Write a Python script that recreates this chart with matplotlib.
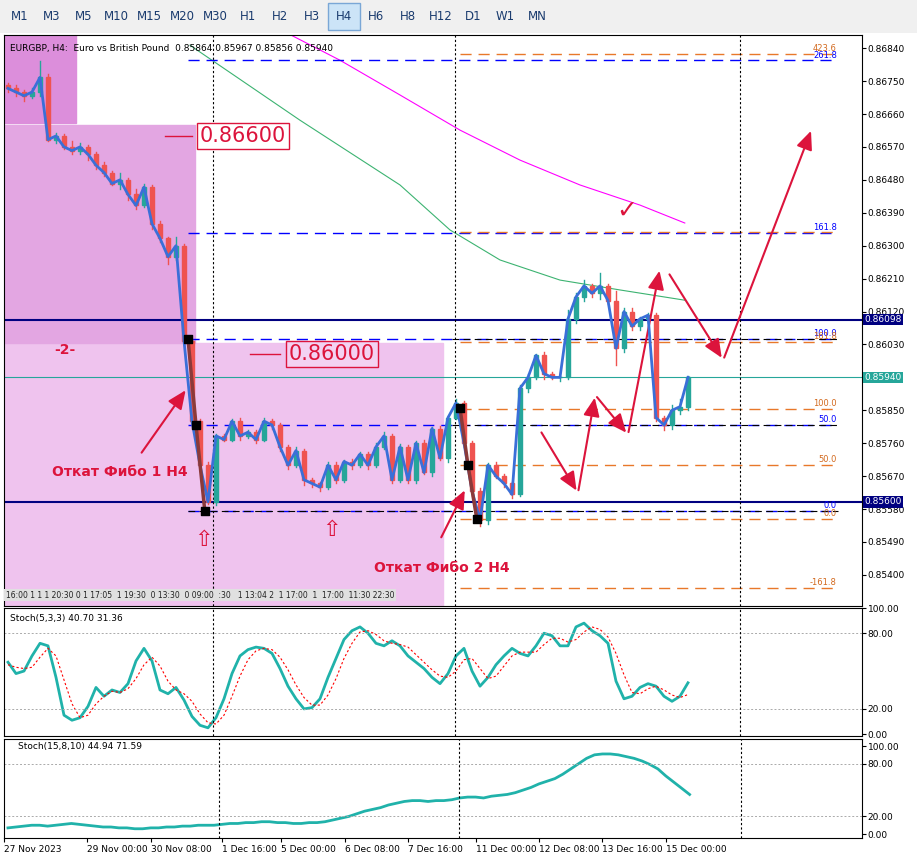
import matplotlib
matplotlib.use("Agg")
import matplotlib.pyplot as plt
from matplotlib.patches import Rectangle
import numpy as np

# ---- data ----
closes = [0.8673, 0.8672, 0.8671, 0.8672, 0.8676, 0.8659, 0.8660, 0.8657, 0.8656, 0.8657,
          0.8655, 0.8652, 0.8650, 0.8647, 0.8648, 0.8644, 0.8641, 0.8646, 0.8636, 0.8632,
          0.8627, 0.8630, 0.8604, 0.8582, 0.8570, 0.8560, 0.8578, 0.8577, 0.8582, 0.8578,
          0.8579, 0.8577, 0.8582, 0.8581, 0.8575, 0.8570, 0.8574, 0.8566, 0.8565, 0.8564,
          0.8570, 0.8566, 0.8571, 0.8570, 0.8573, 0.8570, 0.8575, 0.8578, 0.8566, 0.8575,
          0.8566, 0.8576, 0.8568, 0.8580, 0.8572, 0.8583, 0.8587, 0.8576, 0.8563, 0.8555,
          0.8570, 0.8567, 0.8565, 0.8562, 0.8591, 0.8594, 0.8600, 0.8595, 0.8594, 0.8594,
          0.8610, 0.8616, 0.8619, 0.8617, 0.8619, 0.8615, 0.8602, 0.8612, 0.8608, 0.8610,
          0.8611, 0.8583, 0.8581, 0.8585, 0.8586, 0.8594]
first_open = 0.8674
up_wick = [5, 8, 5, 10, 45, 10, 8, 5, 15, 10, 5, 5, 10, 5, 20, 5, 15, 10, 5, 8,
           5, 25, 5, 5, 5, 10, 5, 5, 5, 10, 5, 5, 8, 5, 5, 5, 10, 5, 5, 5,
           10, 10, 5, 8, 5, 5, 10, 10, 5, 8, 5, 5, 10, 5, 8, 5, 10, 5, 5, 8,
           5, 10, 5, 5, 8, 10, 5, 10, 5, 5, 25, 10, 15, 5, 35, 5, 25, 10, 10, 5,
           5, 5, 5, 15, 20, 5]
dn_wick = [10, 10, 15, 5, 10, 5, 10, 5, 10, 10, 15, 10, 10, 5, 15, 15, 10, 5, 15, 10,
           20, 10, 5, 10, 15, 5, 10, 5, 5, 10, 5, 10, 5, 10, 10, 10, 5, 15, 10, 10,
           5, 10, 5, 10, 5, 10, 5, 5, 10, 5, 10, 10, 5, 10, 5, 10, 5, 10, 15, 15,
           10, 5, 10, 10, 5, 10, 5, 15, 5, 10, 5, 10, 10, 10, 15, 10, 45, 10, 10, 10,
           10, 10, 15, 10, 10, 10]

ma_green_x = [22.75, 36.5, 49, 55.25, 61.5, 69, 76.5, 84.6]
ma_green_y = [0.86848, 0.86643, 0.86466, 0.86343, 0.86261, 0.86206, 0.86179, 0.86151]
ma_mag_x = [35.0, 41.5, 49, 56.5, 64, 71.5, 79, 84.6]
ma_mag_y = [0.86880, 0.86807, 0.86712, 0.86616, 0.86534, 0.86466, 0.86411, 0.86362]

stoch1_main = [57, 48, 50, 62, 72, 70, 45, 15, 11, 13, 22, 37, 30, 35, 33, 40, 58, 68, 58, 35,
               32, 37, 27, 14, 7, 5, 13, 28, 48, 62, 67, 69, 68, 64, 52, 38, 28, 20, 21, 28,
               45, 60, 75, 82, 85, 80, 72, 70, 74, 70, 62, 57, 52, 45, 40, 48, 62, 68, 50, 38,
               45, 55, 62, 68, 64, 62, 70, 80, 78, 70, 70, 85, 88, 82, 78, 72, 42, 28, 30, 37,
               40, 38, 30, 26, 30, 40.7]
stoch1_sig = [55, 53, 52, 53, 61, 68, 62, 43, 24, 13, 15, 24, 30, 34, 33, 36, 44, 55, 61, 54,
              42, 35, 32, 26, 16, 9, 8, 15, 30, 46, 59, 66, 68, 67, 61, 51, 39, 29, 23, 23,
              31, 44, 60, 72, 81, 82, 79, 74, 72, 71, 69, 63, 57, 51, 46, 45, 50, 59, 60, 52,
              44, 46, 54, 62, 65, 65, 65, 71, 76, 76, 73, 75, 81, 85, 83, 77, 64, 47, 33, 32,
              36, 38, 35, 31, 29, 31.36]
stoch2_main = [7, 8, 9, 10, 10, 9, 10, 11, 12, 11, 10, 9, 8, 8, 7, 7, 6, 6, 7, 7, 8,
               8, 9, 9, 10, 10, 10, 11, 12, 12, 13, 13, 14, 14, 13, 13, 12, 12, 13, 13, 14,
               16, 18, 20, 23, 26, 28, 30, 33, 35, 37, 38, 38, 37, 38, 38, 39, 41, 42, 42, 41,
               43, 44, 45, 47, 50, 53, 57, 60, 63, 68, 74, 80, 86, 90, 91, 91, 90, 88, 86, 83,
               79, 74, 66, 59, 52, 44.94]

price_ticks = [0.86840, 0.86750, 0.86660, 0.86570, 0.86480, 0.86390, 0.86300, 0.86210,
               0.86120, 0.86030, 0.85850, 0.85760, 0.85670, 0.85580, 0.85490, 0.85400]
blue_fib = [(0.86807, "261.8"), (0.86336, "161.8"), (0.86045, "100.0"), (0.85810, "50.0"), (0.85575, "0.0")]
orange_fib = [(0.86824, "423.6"), (0.86338, ""), (0.86038, "161.8"), (0.85854, "100.0"),
              (0.85700, "50.0"), (0.85553, "0.0"), (0.85364, "-161.8")]
date_labels = ["27 Nov 2023", "29 Nov 00:00", "30 Nov 08:00", "1 Dec 16:00", "5 Dec 00:00",
               "6 Dec 08:00", "7 Dec 16:00", "11 Dec 00:00", "12 Dec 08:00", "13 Dec 16:00",
               "15 Dec 00:00"]
date_bars = [-1.5, 9, 17, 26, 33.5, 41.5, 49.5, 58, 66, 74, 82]
timeframes = ["M1", "M3", "M5", "M10", "M15", "M20", "M30", "H1", "H2", "H3", "H4",
              "H6", "H8", "H12", "D1", "W1", "MN"]

BULL = "#26a69a"
BEAR = "#ef5350"
RED = "#dc143c"
NAVY = "#000080"
W, H = 917, 858
XMIN, XMAX = -0.5, 106.75


def px_axes(fig, x0, y0, x1, y1):
    return fig.add_axes([x0 / W, 1 - y1 / H, (x1 - x0) / W, (y1 - y0) / H])


fig = plt.figure(figsize=(W / 100, H / 100), dpi=100)
fig.patch.set_facecolor("white")

# toolbar
tb = px_axes(fig, 0, 0, W, 33)
tb.set_xlim(0, W)
tb.set_ylim(33, 0)
tb.axis("off")
tb.add_patch(Rectangle((0, 0), W, 33, color="#f0f0f0"))
bx = 8
for tf in timeframes:
    wd = 32 if len(tf) < 3 else 33
    if tf == "H4":
        tb.add_patch(Rectangle((bx - 4, 3), wd, 27, facecolor="#cce4f7", edgecolor="#7aa7d6"))
    tb.text(bx + wd / 2 - 4, 17, tf, ha="center", va="center", fontsize=8.5, color="#1a3b6e")
    bx += wd

# main chart
ax = px_axes(fig, 4, 35, 862, 606)
ax.set_xlim(XMIN, XMAX)
ax.set_ylim(0.85315, 0.86876)

ax.add_patch(Rectangle((-0.5, 0.85315), 54.9, 0.86034 - 0.85315, color="#efc3ee", zorder=0))
ax.add_patch(Rectangle((-0.5, 0.86034), 23.9, 0.86630 - 0.86034, color="#e3a6e2", zorder=0))
ax.add_patch(Rectangle((-0.5, 0.86635), 9.0, 0.0025, color="#dc8edb", zorder=0))

opens = [first_open] + closes[:-1]
for i, (o, c) in enumerate(zip(opens, closes)):
    col = BULL if c >= o else BEAR
    hi = max(o, c) + up_wick[i] * 1e-5
    lo = min(o, c) - dn_wick[i] * 1e-5
    ax.plot([i, i], [lo, hi], color=col, lw=1, zorder=3)
    ax.add_patch(Rectangle((i - 0.28, min(o, c)), 0.56, max(abs(c - o), 1.5e-5), color=col, zorder=3))
ax.plot(range(len(closes)), closes, color="#3a6fd8", lw=2, zorder=4)

ax.plot(ma_green_x, ma_green_y, color="#3cb371", lw=0.8, zorder=2)
ax.plot(ma_mag_x, ma_mag_y, color="#ff00ff", lw=0.8, zorder=2)

ax.axhline(0.86098, color=NAVY, lw=1.5, zorder=2)
ax.axhline(0.85600, color=NAVY, lw=1.5, zorder=2)
ax.axhline(0.85940, color="#26a69a", lw=0.8, zorder=2)
for lvl, lab in blue_fib:
    ax.plot([22.5, 103.75], [lvl, lvl], color="#0000ff", lw=1, dashes=(8, 5), zorder=2)
    ax.text(103.6, lvl + 0.00002, lab, color="#0000ff", fontsize=6, ha="right", va="bottom")
for lvl, lab in orange_fib:
    ax.plot([56.5, 103.75], [lvl, lvl], color="#e8782a", lw=1, dashes=(8, 5), zorder=2)
    if lab:
        ax.text(103.6, lvl + 0.00002, lab, color="#d2691e", fontsize=6, ha="right", va="bottom")
ax.plot([55.5, 103.75], [0.86045, 0.86045], color="k", lw=0.8, dashes=(6, 4))
ax.plot([55.5, 103.75], [0.85810, 0.85810], color="k", lw=0.8, dashes=(6, 4))
ax.plot([22.5, 103.75], [0.85575, 0.85575], color="k", lw=0.8, dashes=(6, 4))

# fib anchors
ax.plot([22.5, 23.5, 24.6], [0.86045, 0.85810, 0.85575], color="#8b3a3a", lw=2.5, zorder=5)
ax.plot([56.5, 57.5, 58.6], [0.85856, 0.85700, 0.85553], color="#8b3a3a", lw=2.5, zorder=5)
ax.scatter([22.5, 23.5, 24.6, 56.5, 57.5, 58.6],
           [0.86045, 0.85810, 0.85575, 0.85856, 0.85700, 0.85553],
           marker="s", s=28, color="k", zorder=6)

arrow = dict(arrowstyle="-|>,head_length=0.8,head_width=0.35", color=RED, lw=1.5, mutation_scale=14)
ax.annotate("", xy=(22.4, 0.85911), xytext=(16.5, 0.85728), arrowprops=arrow)
ax.annotate("", xy=(57.25, 0.85638), xytext=(54, 0.85496), arrowprops=arrow)
zz1 = [(66.5, 0.85796), (71.25, 0.85624), (73.4, 0.85892), (77.5, 0.85783), (81.5, 0.86239)]
zz2 = [(82.5, 0.86228), (89.4, 0.85987), (100.5, 0.86621)]
for seg in (zz1, zz2):
    for a, b in zip(seg[:-1], seg[1:]):
        ax.annotate("", xy=b, xytext=a, arrowprops=arrow)

ax.text(14, 0.85681, "Откат Фибо 1 H4", color=RED, fontsize=10, fontweight="bold", ha="center", va="center")
ax.text(54.25, 0.85419, "Откат Фибо 2 H4", color=RED, fontsize=10, fontweight="bold", ha="center", va="center")
ax.text(7.1, 0.86015, "-2-", color=RED, fontsize=10, fontweight="bold", ha="center", va="center")
ax.text(24.5, 0.85496, "⇧", color=RED, fontsize=16, ha="center", va="center")
ax.text(40.4, 0.85523, "⇧", color=RED, fontsize=16, ha="center", va="center")
ax.text(77.4, 0.86397, "✓", color=RED, fontsize=18, fontweight="bold", ha="center", va="center")

ax.plot([19.6, 23.0], [0.86600, 0.86600], color=RED, lw=1)
ax.text(29.4, 0.86600, "0.86600", color=RED, fontsize=15, ha="center", va="center",
        bbox=dict(boxstyle="square,pad=0.15", fc="white", ec=RED, lw=1))
ax.plot([30.2, 34.0], [0.86004, 0.86004], color=RED, lw=1)
ax.text(40.5, 0.86004, "0.86000", color=RED, fontsize=15, ha="center", va="center",
        bbox=dict(boxstyle="square,pad=0.15", fc="#f3d2f2", ec=RED, lw=1))

ax.text(0.3, 0.86840, "EURGBP, H4:  Euro vs British Pound  0.85864 0.85967 0.85856 0.85940",
        fontsize=6.5, va="center", ha="left")
ax.text(-0.3, 0.85345, "16:00 1 1 1 20:30 0 1 17:05  1 19:30  0 13:30  0 09:00  :30   1 13:04 2  1 17:00  1  17:00  11:30 22:30",
        fontsize=5.5, va="center", ha="left", color="#222",
        bbox=dict(boxstyle="square,pad=0.2", fc="#e0e0e0", ec="none"))

ax.yaxis.tick_right()
ax.set_yticks(price_ticks)
ax.set_yticklabels([f"{p:.5f}" for p in price_ticks], fontsize=6.5)
ax.set_xticks([])
for lvl, fc in [(0.86098, NAVY), (0.85940, "#26a69a"), (0.85600, NAVY)]:
    ax.text(1.003, lvl, f"{lvl:.5f}", transform=ax.get_yaxis_transform(), fontsize=6.5, zorder=10,
            color="white", va="center", ha="left", bbox=dict(boxstyle="square,pad=0.15", fc=fc, ec="none"))

# stochastic panels
s1 = px_axes(fig, 4, 608, 862, 736)
s1.set_xlim(XMIN, XMAX)
s1.set_ylim(-1.5, 98)
s1.plot(range(len(stoch1_main)), stoch1_main, color="#20b2aa", lw=2)
s1.plot(range(len(stoch1_sig)), stoch1_sig, color="red", lw=0.8, ls=(0, (2, 2)))
s1.text(0.3, 92, "Stoch(5,3,3) 40.70 31.36", fontsize=6.5, va="center")
s2 = px_axes(fig, 4, 739, 862, 838)
s2.set_xlim(XMIN, XMAX)
s2.set_ylim(-4.5, 108)
s2.plot(np.arange(len(stoch2_main)) - 1, stoch2_main, color="#20b2aa", lw=2)
s2.text(0.3, 100, "Stoch(15,8,10) 44.94 71.59", fontsize=6.5, va="center")
for s in (s1, s2):
    s.axhline(80, color="#aaa", lw=0.7, ls=(0, (2, 2)))
    s.axhline(20, color="#aaa", lw=0.7, ls=(0, (2, 2)))
    s.yaxis.tick_right()
    s.set_yticks([0, 20, 80, 100])
    s.set_yticklabels(["0.00", "20.00", "80.00", "100.00"], fontsize=6.5)
    s.set_xticks([])

for a in (ax, s1, s2):
    for vb in (25.6, 55.9, 91.5):
        a.axvline(vb, color="k", lw=0.8, ls=(0, (2, 2)))
    a.tick_params(axis="y", length=3, pad=1)

s2.set_xticks(date_bars)
s2.set_xticklabels(date_labels, fontsize=6.5, ha="left")
s2.tick_params(axis="x", length=3, pad=2)

fig.savefig("out.png", dpi=100)
